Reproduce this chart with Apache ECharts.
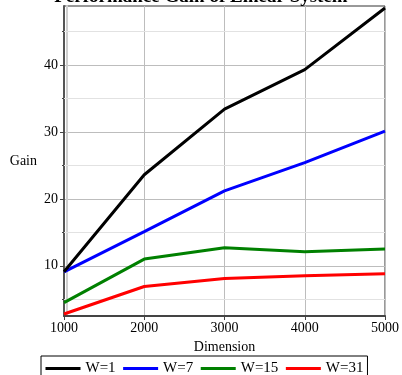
<!DOCTYPE html>
<html>
<head>
<meta charset="utf-8">
<script src="https://cdn.jsdelivr.net/npm/echarts@6/dist/echarts.min.js"></script>
<style>
  html, body { margin: 0; padding: 0; background: #fff; }
  #chart { width: 402px; height: 375px; }
</style>
</head>
<body>
<div id="chart"></div>
<script>
// values
const dimensions = [1000, 2000, 3000, 4000, 5000];
const seriesNames = ['W=1', 'W=7', 'W=15', 'W=31'];
const gainW1 = [9.1, 23.6, 33.4, 39.3, 48.5];
const gainW7 = [9.1, 15.1, 21.2, 25.4, 30.1];
const gainW15 = [4.5, 11.0, 12.7, 12.1, 12.5];
const gainW31 = [2.8, 6.9, 8.1, 8.5, 8.8];
const majorTicks = [10, 20, 30, 40];
const minorTicks = [5, 15, 25, 35, 45];

const colors = ['#000000', '#0000ff', '#008000', '#ff0000'];
const FONT = '"Liberation Serif", "DejaVu Serif", serif';

const chart = echarts.init(document.getElementById('chart'));

const mkSeries = (name, vals, i) => ({
  name,
  type: 'line',
  symbol: 'none',
  data: dimensions.map((d, k) => [d, vals[k]]),
  lineStyle: { color: colors[i], width: 3 },
  itemStyle: { color: colors[i] },
  z: 10 - i,
});

const series = [
  mkSeries(seriesNames[0], gainW1, 0),
  mkSeries(seriesNames[1], gainW7, 1),
  mkSeries(seriesNames[2], gainW15, 2),
  mkSeries(seriesNames[3], gainW31, 3),
];

// light gridlines at the half steps
series[3].markLine = {
  silent: true,
  symbol: 'none',
  label: { show: false },
  lineStyle: { color: '#e2e2e2', type: 'solid', width: 1 },
  data: minorTicks.map(v => ({ yAxis: v })),
  z: 1,
};

chart.setOption({
  animation: false,
  textStyle: { fontFamily: FONT },
  title: {
    text: 'Performance Gain of Linear System',
    left: 'center',
    top: -17,
    textStyle: { fontFamily: FONT, fontSize: 19, fontWeight: 'bold', color: '#000' },
  },
  grid: {
    left: 64, right: 15, top: 6, bottom: 59,
    show: true, borderColor: '#333', borderWidth: 1,
  },
  xAxis: {
    type: 'value',
    min: 1000, max: 5000, interval: 1000,
    name: 'Dimension',
    nameLocation: 'middle',
    nameGap: 21,
    nameTextStyle: { fontFamily: FONT, fontSize: 14, color: '#000' },
    axisLine: { lineStyle: { color: '#444', width: 2 } },
    axisTick: { show: true, length: 4, lineStyle: { color: '#444' } },
    axisLabel: { fontFamily: FONT, fontSize: 14, color: '#000', margin: 5, formatter: v => String(v) },
    splitLine: { show: true, lineStyle: { color: '#bdbdbd', width: 1 } },
  },
  yAxis: [
    {
      type: 'value',
      min: 2.5, max: 48.8,
      name: 'Gain',
      nameLocation: 'middle',
      nameRotate: 0,
      nameGap: 27,
      nameTextStyle: { fontFamily: FONT, fontSize: 14, color: '#000' },
      axisLine: {
        show: true,
        lineStyle: { color: '#555', width: 2, shadowColor: '#cfcfcf', shadowOffsetX: 3, shadowBlur: 0 },
      },
      axisTick: { show: true, length: 4, customValues: majorTicks, lineStyle: { color: '#444', shadowColor: 'transparent' } },
      axisLabel: { fontFamily: FONT, fontSize: 14, color: '#000', margin: 6, customValues: majorTicks },
      splitLine: { show: true, lineStyle: { color: '#bdbdbd', width: 1 } },
    },
    {
      type: 'value',
      position: 'left',
      min: 2.5, max: 48.8,
      axisLine: { show: false },
      axisTick: { show: true, length: 2, customValues: minorTicks, lineStyle: { color: '#444' } },
      axisLabel: { show: false },
      splitLine: { show: false },
    },
  ],
  legend: {
    data: seriesNames,
    left: 41,
    top: 356,
    padding: [5, 4, 8, 3],
    itemWidth: 35,
    itemHeight: 14,
    itemGap: 6,
    backgroundColor: '#fff',
    borderColor: '#000',
    borderWidth: 1,
    borderRadius: 0,
    textStyle: { fontFamily: FONT, fontSize: 15, color: '#000' },
    itemStyle: { opacity: 0 },
    lineStyle: { width: 3 },
  },
  series,
});
</script>
</body>
</html>
